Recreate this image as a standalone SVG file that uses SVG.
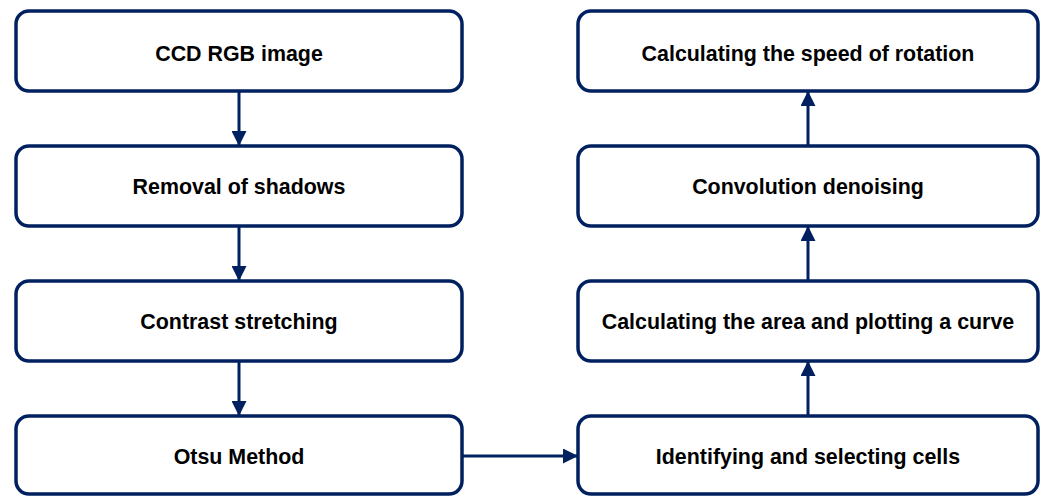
<svg xmlns="http://www.w3.org/2000/svg" width="1043" height="496" viewBox="0 0 1043 496">
<style>
.box{fill:#fff;stroke:#002060;stroke-width:3.5}
.lbl{font-family:"Liberation Sans",Arial,sans-serif;font-weight:bold;font-size:21.4px;fill:#000;text-anchor:middle}
.con{stroke:#002060;stroke-width:3;fill:none;marker-end:url(#ah)}
</style>
<defs>
<marker id="ah" viewBox="0 0 10 10" refX="10" refY="5" markerWidth="5" markerHeight="5" orient="auto" markerUnits="strokeWidth">
<path d="M0,0 L10,5 L0,10 z" fill="#002060"/>
</marker>
</defs>
<g id="connectors">
<line class="con" x1="239" y1="91" x2="239" y2="146"/>
<line class="con" x1="239" y1="226" x2="239" y2="281"/>
<line class="con" x1="239" y1="361" x2="239" y2="416"/>
<line class="con" x1="462" y1="456" x2="578" y2="456"/>
<line class="con" x1="808" y1="416" x2="808" y2="361"/>
<line class="con" x1="808" y1="281" x2="808" y2="226"/>
<line class="con" x1="808" y1="146" x2="808" y2="91"/>
</g>
<g id="n1"><rect class="box" x="16" y="11" width="446" height="80" rx="13"/><text class="lbl" x="239" y="61">CCD RGB image</text></g>
<g id="n2"><rect class="box" x="16" y="146" width="446" height="80" rx="13"/><text class="lbl" x="239" y="194">Removal of shadows</text></g>
<g id="n3"><rect class="box" x="16" y="281" width="446" height="80" rx="13"/><text class="lbl" x="239" y="329">Contrast stretching</text></g>
<g id="n4"><rect class="box" x="16" y="416" width="446" height="78" rx="13"/><text class="lbl" x="239" y="464">Otsu Method</text></g>
<g id="n5"><rect class="box" x="578" y="416" width="460" height="78" rx="13"/><text class="lbl" x="808" y="464">Identifying and selecting cells</text></g>
<g id="n6"><rect class="box" x="578" y="281" width="460" height="80" rx="13"/><text class="lbl" x="808" y="329">Calculating the area and plotting a curve</text></g>
<g id="n7"><rect class="box" x="578" y="146" width="460" height="80" rx="13"/><text class="lbl" x="808" y="194">Convolution denoising</text></g>
<g id="n8"><rect class="box" x="578" y="11" width="460" height="80" rx="13"/><text class="lbl" x="808" y="61">Calculating the speed of rotation</text></g>
</svg>
